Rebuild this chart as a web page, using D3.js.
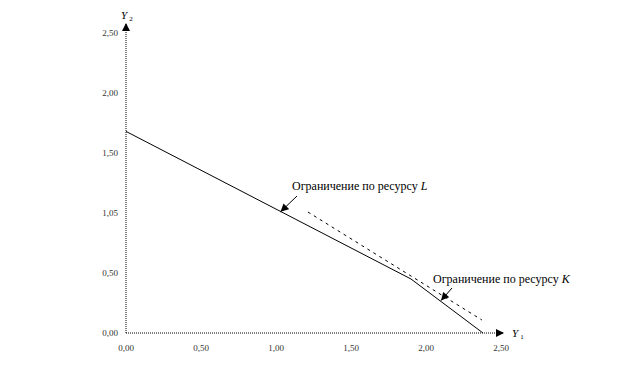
<!DOCTYPE html>
<html>
<head>
<meta charset="utf-8">
<script src="https://cdn.jsdelivr.net/npm/d3@7"></script>
<style>
body { margin: 0; background: #fff; }
</style>
</head>
<body>
<div id="chart"></div>
<script>
// tick values and their labels as printed
var tickValues = [0, 0.5, 1, 1.5, 2, 2.5];
var xTickLabels = ["0,00", "0,50", "1,00", "1,50", "2,00", "2,50"];
var yTickLabels = ["0,00", "0,50", "1,05", "1,50", "2,00", "2,50"];

// feasible boundary (solid) and second constraint (dashed)
var solidX = [0, 1.9, 2.38];
var solidY = [1.68, 0.45, 0];
var dashX = [1.213, 2.373];
var dashY = [1.008, 0.108];

// annotations: text, anchor on line
var noteText = ["Ограничение по ресурсу L", "Ограничение по ресурсу K"];
var noteX = [1.03, 2.1];
var noteY = [1.01, 0.27];

var width = 623, height = 372;
var serif = "Liberation Serif";

var svg = d3.select("#chart")
	.append("svg")
	.attr("width", width)
	.attr("height", height);

var x = d3.scaleLinear()
	.domain([0, 2.5])
	.range([126, 501]);
var y = d3.scaleLinear()
	.domain([0, 2.5])
	.range([333, 33]);

var defs = svg.append("defs");
defs.append("marker")
	.attr("id", "arr")
	.attr("viewBox", "0 0 10 10")
	.attr("refX", 10)
	.attr("refY", 5)
	.attr("markerWidth", 9)
	.attr("markerHeight", 8)
	.attr("markerUnits", "userSpaceOnUse")
	.attr("orient", "auto")
	.append("path")
	.attr("d", "M0,0L10,5L0,10z")
	.attr("fill", "#000");

// axes (dotted)
svg.append("line")
	.attr("x1", x(0)).attr("y1", y(0))
	.attr("x2", x(0)).attr("y2", 23)
	.attr("stroke", "#000")
	.attr("stroke-width", 1)
	.attr("stroke-dasharray", "1,1")
	.attr("marker-end", "url(#arr)");
svg.append("line")
	.attr("x1", x(0)).attr("y1", y(0))
	.attr("x2", 504).attr("y2", y(0))
	.attr("stroke", "#000")
	.attr("stroke-width", 1)
	.attr("stroke-dasharray", "1,1")
	.attr("marker-end", "url(#arr)");

// tick labels
svg.append("g")
	.selectAll("text")
	.data(tickValues)
	.enter()
	.append("text")
	.attr("x", function(d) { return x(d); })
	.attr("y", 351)
	.attr("text-anchor", "middle")
	.style("font-family", serif)
	.style("font-size", "9px")
	.style("fill", "#333")
	.text(function(d, i) { return xTickLabels[i]; });

svg.append("g")
	.selectAll("text")
	.data(tickValues)
	.enter()
	.append("text")
	.attr("x", 118)
	.attr("y", function(d) { return y(d) + 3; })
	.attr("text-anchor", "end")
	.style("font-family", serif)
	.style("font-size", "9px")
	.style("fill", "#333")
	.text(function(d, i) { return yTickLabels[i]; });

// axis names
var yName = svg.append("text")
	.attr("x", 121)
	.attr("y", 19)
	.style("font-family", serif)
	.style("font-size", "11px");
yName.append("tspan").style("font-style", "italic").text("Y");
yName.append("tspan").attr("dx", 2).attr("dy", 2).style("font-size", "7px").text("2");

var xName = svg.append("text")
	.attr("x", 512)
	.attr("y", 337)
	.style("font-family", serif)
	.style("font-size", "11px");
xName.append("tspan").style("font-style", "italic").text("Y");
xName.append("tspan").attr("dx", 2).attr("dy", 2).style("font-size", "7px").text("1");

// lines
var line = d3.line()
	.x(function(d) { return x(d[0]); })
	.y(function(d) { return y(d[1]); });

svg.append("path")
	.datum(d3.zip(solidX, solidY))
	.attr("d", line)
	.attr("fill", "none")
	.attr("stroke", "#000")
	.attr("stroke-width", 1);

svg.append("path")
	.datum(d3.zip(dashX, dashY))
	.attr("d", line)
	.attr("fill", "none")
	.attr("stroke", "#000")
	.attr("stroke-width", 1)
	.attr("stroke-dasharray", "3,4");

// annotations
var tails = [[297, 196], [452, 288]];
var textPos = [[292, 190], [433, 283]];

noteText.forEach(function(t, i) {
	svg.append("line")
		.attr("x1", tails[i][0]).attr("y1", tails[i][1])
		.attr("x2", x(noteX[i])).attr("y2", y(noteY[i]))
		.attr("stroke", "#000")
		.attr("stroke-width", 1)
		.attr("marker-end", "url(#arr)");
	var tx = svg.append("text")
		.attr("x", textPos[i][0])
		.attr("y", textPos[i][1])
		.style("font-family", serif)
		.style("font-size", "12px");
	tx.append("tspan").text(t.slice(0, -1));
	tx.append("tspan").style("font-style", "italic").text(t.slice(-1));
});
</script>
</body>
</html>
